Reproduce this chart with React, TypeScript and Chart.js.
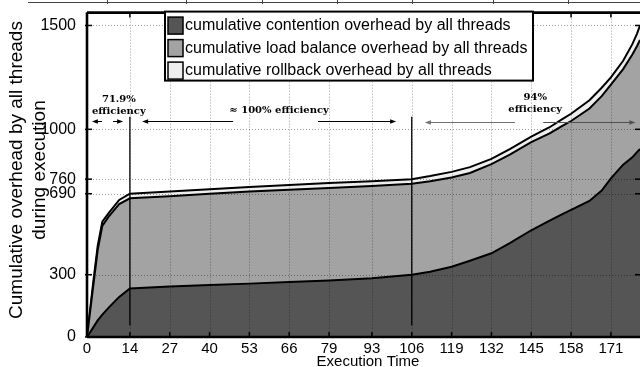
import React, { useEffect, useRef } from "react";
import { Chart, registerables } from "chart.js";

Chart.register(...registerables);

// ---- data ----
const TIME = [0, 2, 3.5, 5, 7, 10.5, 14, 27, 40, 53, 66, 79, 93, 106, 112, 119, 125, 132, 138, 145, 151, 155, 158, 164, 168, 171, 175, 178, 179.5, 180.5];
const CONTENTION = [0, 45, 80, 108, 140, 193, 234, 243, 250, 257, 265, 272, 283, 300, 314, 338, 367, 403, 452, 514, 560, 590, 612, 655, 705, 764, 830, 865, 890, 905];
const LOAD_BALANCE = [0, 195, 340, 427, 438, 447, 434, 435, 440, 443, 444, 446, 444, 438, 436, 430, 423, 429, 426, 424, 420, 425, 428, 445, 455, 451, 460, 495, 510, 525];
const ROLLBACK = [0, 20, 20, 20, 17, 20, 22, 22, 22, 22, 23, 23, 23, 22, 25, 27, 28, 26, 27, 27, 30, 33, 35, 40, 40, 35, 40, 50, 60, 70];

const SERIES_NAMES = [
  "cumulative contention overhead by all threads",
  "cumulative load balance overhead by all threads",
  "cumulative rollback overhead by all threads",
];
const SERIES_COLORS = ["#555555", "#a3a3a3", "#eeeeee"];

const X_TICKS = [0, 14, 27, 40, 53, 66, 79, 93, 106, 119, 132, 145, 158, 171];
const Y_TICKS = [0, 300, 690, 760, 1000, 1500];
const X_MAX = 180.5;
const Y_MAX = 1562;

const PHASE_LINES = [14, 106];
const PHASE_LINE_RANGE = [55, 1060];

const ARROWS = [
  { from: 4.9, to: 1.6, y: 1038, color: "#000" },
  { from: 8.5, to: 11.8, y: 1038, color: "#000" },
  { from: 47.7, to: 18, y: 1038, color: "#000" },
  { from: 75.4, to: 100.9, y: 1038, color: "#000" },
  { from: 139.7, to: 110.3, y: 1033, color: "#707070" },
  { from: 148.9, to: 179, y: 1033, color: "#505050" },
];
const NOTES = [
  { text: "71.9%", x: 10.4, y: 1144 },
  { text: "efficiency", x: 10.4, y: 1087 },
  { text: "\u2248 100% efficiency", x: 62.7, y: 1091 },
  { text: "94%", x: 146.3, y: 1154 },
  { text: "efficiency", x: 146.3, y: 1096 },
];

const X_TITLE = "Execution Time";
const Y_TITLE = ["Cumulative overhead by all threads", "during execution"];

const SANS = "'Liberation Sans', Arial, Helvetica, sans-serif";
const SERIF = "'DejaVu Serif', serif";

const overlay = {
  id: "overlay",
  afterDatasetsDraw(chart: any) {
    const { ctx, chartArea: a, scales } = chart;
    const xs = scales.x;
    const ys = scales.y;
    const line = (x1: number, y1: number, x2: number, y2: number) => {
      ctx.beginPath();
      ctx.moveTo(x1, y1);
      ctx.lineTo(x2, y2);
      ctx.stroke();
    };
    ctx.save();

    // dotted grid
    ctx.strokeStyle = "rgba(0,0,0,0.38)";
    ctx.lineWidth = 1;
    ctx.setLineDash([1, 2]);
    X_TICKS.forEach((v) => {
      if (v === 0) return;
      const px = Math.round(xs.getPixelForValue(v)) + 0.5;
      line(px, a.top, px, a.bottom);
    });
    Y_TICKS.forEach((v) => {
      if (v === 0) return;
      const py = Math.round(ys.getPixelForValue(v)) + 0.5;
      line(a.left, py, a.right, py);
    });
    ctx.setLineDash([]);

    // phase lines
    ctx.strokeStyle = "#000";
    ctx.lineWidth = 1.3;
    PHASE_LINES.forEach((v) => {
      const px = xs.getPixelForValue(v);
      line(px, ys.getPixelForValue(PHASE_LINE_RANGE[1]), px, ys.getPixelForValue(PHASE_LINE_RANGE[0]));
    });

    // tick marks (inward)
    ctx.lineWidth = 1.5;
    X_TICKS.forEach((v) => {
      const px = xs.getPixelForValue(v);
      line(px, a.bottom, px, a.bottom - 5);
      line(px, a.top, px, a.top + 5);
    });
    Y_TICKS.forEach((v) => {
      const py = ys.getPixelForValue(v);
      line(a.left - 2, py, a.left + 5, py);
      line(a.right, py, a.right - 5, py);
    });

    // axes frame
    ctx.lineWidth = 2.6;
    line(a.left, a.top, a.right, a.top);
    line(a.left, a.top, a.left, a.bottom);
    line(a.left, a.bottom, a.right, a.bottom);

    // arrows
    ARROWS.forEach((ar) => {
      const x1 = xs.getPixelForValue(ar.from);
      const x2 = xs.getPixelForValue(ar.to);
      const py = Math.round(ys.getPixelForValue(ar.y)) + 0.5;
      const dir = x2 > x1 ? 1 : -1;
      ctx.strokeStyle = ar.color;
      ctx.fillStyle = ar.color;
      ctx.lineWidth = 1;
      line(x1, py, x2 - dir * 4, py);
      ctx.beginPath();
      ctx.moveTo(x2, py);
      ctx.lineTo(x2 - dir * 6, py - 2.2);
      ctx.lineTo(x2 - dir * 6, py + 2.2);
      ctx.closePath();
      ctx.fill();
    });

    // notes
    ctx.fillStyle = "#000";
    ctx.font = "bold 10px " + SERIF;
    ctx.textAlign = "center";
    ctx.textBaseline = "middle";
    NOTES.forEach((n) => {
      ctx.fillText(n.text, xs.getPixelForValue(n.x), ys.getPixelForValue(n.y));
    });

    // legend box
    const lx = 165, ly = a.top - 1, lw = 368, lh = 69;
    ctx.fillStyle = "#fff";
    ctx.fillRect(lx, ly, lw, lh);
    ctx.strokeStyle = "#000";
    ctx.lineWidth = 2;
    ctx.strokeRect(lx, ly, lw, lh);
    ctx.font = "16px " + SANS;
    ctx.textAlign = "left";
    ctx.textBaseline = "middle";
    SERIES_NAMES.forEach((name, i) => {
      const cy = ly + 14 + i * 22.5;
      ctx.fillStyle = SERIES_COLORS[i];
      ctx.fillRect(lx + 3, cy - 8.5, 15, 17);
      ctx.lineWidth = 1.5;
      ctx.strokeStyle = "#000";
      ctx.strokeRect(lx + 3, cy - 8.5, 15, 17);
      ctx.fillStyle = "#000";
      ctx.fillText(name, lx + 20, cy);
    });

    // axis titles
    ctx.fillStyle = "#000";
    ctx.font = "15px " + SANS;
    ctx.textAlign = "center";
    ctx.textBaseline = "alphabetic";
    ctx.fillText(X_TITLE, 368, 366);

    ctx.font = "19px " + SANS;
    ctx.textBaseline = "middle";
    Y_TITLE.forEach((t, i) => {
      ctx.save();
      ctx.translate(17 + i * 23, 170);
      ctx.rotate(-Math.PI / 2);
      ctx.fillText(t, 0, 0);
      ctx.restore();
    });

    // remnant rule at the very top of the picture
    ctx.strokeStyle = "#444";
    ctx.lineWidth = 1;
    line(28, 2.5, 640, 2.5);
    [107, 186, 262, 337, 412, 493, 568].forEach((px) => line(px + 0.5, 0, px + 0.5, 4));

    ctx.restore();
  },
};

export default function App() {
  const ref = useRef<HTMLCanvasElement | null>(null);
  useEffect(() => {
    if (!ref.current) return;
    const mk = (vals: number[]) => TIME.map((t, i) => ({ x: t, y: vals[i] }));
    const chart = new Chart(ref.current, {
      type: "line",
      data: {
        datasets: [
          { label: SERIES_NAMES[0], data: mk(CONTENTION), backgroundColor: SERIES_COLORS[0], borderColor: "#000", borderWidth: 2, fill: "origin", pointRadius: 0, tension: 0 },
          { label: SERIES_NAMES[1], data: mk(LOAD_BALANCE), backgroundColor: SERIES_COLORS[1], borderColor: "#000", borderWidth: 2, fill: "-1", pointRadius: 0, tension: 0 },
          { label: SERIES_NAMES[2], data: mk(ROLLBACK), backgroundColor: SERIES_COLORS[2], borderColor: "#000", borderWidth: 2, fill: "-1", pointRadius: 0, tension: 0 },
        ],
      },
      options: {
        responsive: false,
        animation: false,
        events: [],
        layout: { padding: { top: 12, left: 0, right: 0, bottom: 0 } },
        plugins: { legend: { display: false }, tooltip: { enabled: false } },
        scales: {
          x: {
            type: "linear",
            min: 0,
            max: X_MAX,
            grid: { display: false },
            border: { display: false },
            afterBuildTicks: (s: any) => { s.ticks = X_TICKS.map((v) => ({ value: v })); },
            afterFit: (s: any) => { s.height = 30; },
            ticks: { autoSkip: false, maxRotation: 0, color: "#000", padding: -5, font: { family: SANS, size: 15 }, callback: (v: any) => String(v) },
          },
          y: {
            stacked: true,
            min: 0,
            max: Y_MAX,
            grid: { display: false },
            border: { display: false },
            afterBuildTicks: (s: any) => { s.ticks = Y_TICKS.map((v) => ({ value: v })); },
            afterFit: (s: any) => { s.width = 87; },
            ticks: { autoSkip: false, color: "#000", padding: 3, font: { family: SANS, size: 16 }, callback: (v: any) => String(v) },
          },
        },
      },
      plugins: [overlay],
    });
    return () => chart.destroy();
  }, []);
  return (
    <div style={{ position: "fixed", left: 0, top: 0, width: 640, height: 367, background: "#fff" }}>
      <canvas ref={ref} width={640} height={367} style={{ display: "block" }} />
    </div>
  );
}
